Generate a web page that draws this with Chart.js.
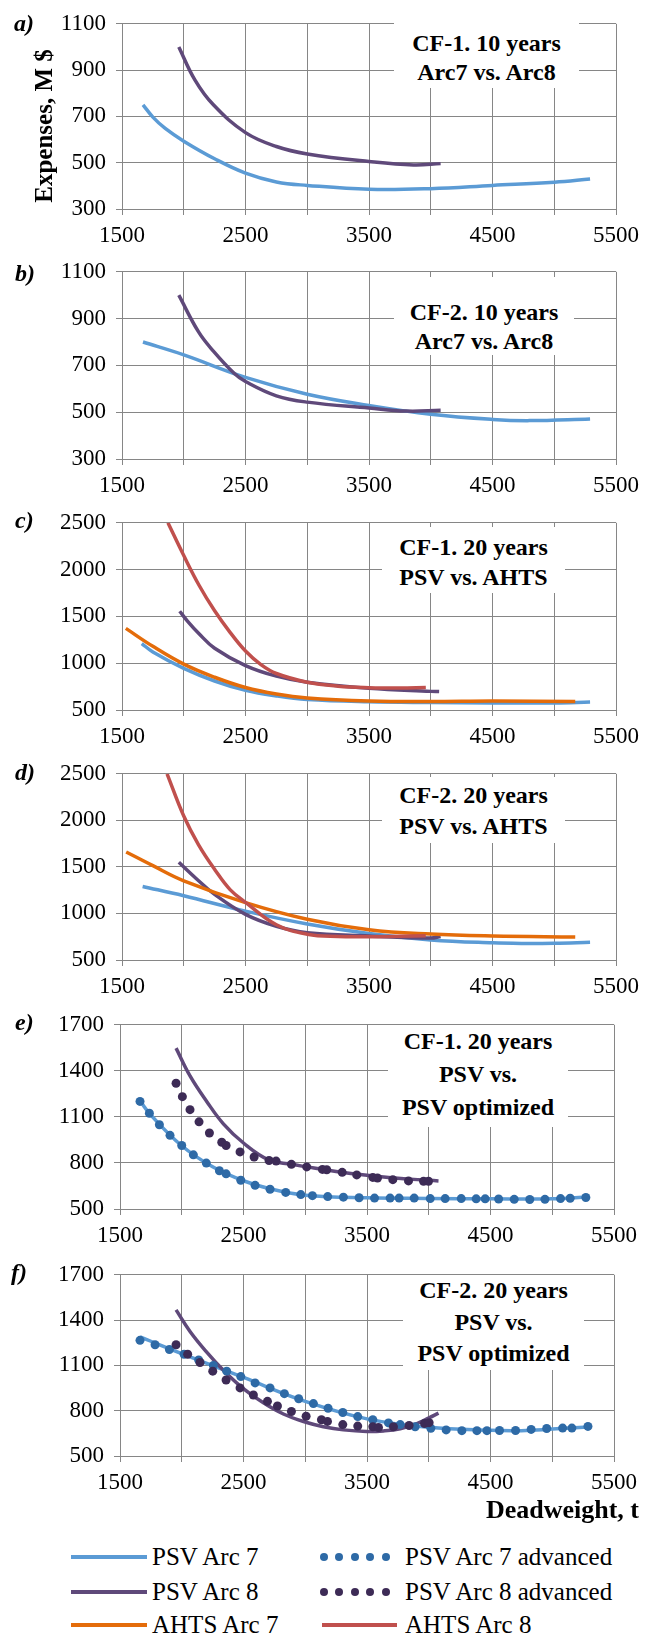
<!DOCTYPE html>
<html lang="en">
<head>
<meta charset="UTF-8">
<title>Expenses vs. deadweight</title>
<script src="https://cdn.jsdelivr.net/npm/chart.js"></script>
<style>
  body { margin: 0; background: #fff; }
  #page { position: relative; width: 660px; height: 1636px; overflow: hidden; font-family: 'Liberation Serif', 'Times New Roman', serif; color: #000; }
  .panel { position: absolute; left: 0; width: 660px; }
  .note { position: absolute; background: #fff; font-weight: bold; font-size: 24px; text-align: center; box-sizing: border-box; white-space: nowrap; }
  .tag { position: absolute; font-weight: bold; font-style: italic; font-size: 24px; line-height: 24px; }
  .ytitle { position: absolute; left: 44px; top: 126px; font-weight: bold; font-size: 25px; white-space: nowrap; transform: translate(-50%, -50%) rotate(-90deg); }
  .xtitle { position: absolute; right: 21px; top: 1494px; font-weight: bold; font-size: 26px; line-height: 32px; white-space: nowrap; }
  .leg { position: absolute; font-size: 25px; line-height: 30px; white-space: nowrap; }
  .sw { position: absolute; height: 4px; }
  .dot { position: absolute; width: 8px; height: 8px; border-radius: 50%; }
</style>
</head>
<body>
<div id="page"></div>
<script>
// deadweight axis, t
const xMin = 1500, xMax = 5500, xStep = 500;
const xLabels = [1500, 2500, 3500, 4500, 5500];

// a) CF-1. 10 years, Arc7 vs. Arc8
const aPsv7 = [[1670,750],[1750,697],[1850,648],[2000,593],[2250,517],[2500,455],[2750,417],[3000,402],[3500,385],[4000,388],[4500,402],[5000,416],[5290,430]];
const aPsv8 = [[1960,1000],[2090,858],[2240,750],[2500,630],[2750,570],[3000,538],[3500,505],[3860,490],[4080,496]];

// b) CF-2. 10 years, Arc7 vs. Arc8
const bPsv7 = [[1670,800],[2000,745],[2500,649],[3000,577],[3500,529],[4000,491],[4500,469],[4800,464],[5290,471]];
const bPsv8 = [[1960,1000],[2120,843],[2240,761],[2410,665],[2500,631],[2750,570],[3000,543],[3500,518],[3800,505],[4080,508]];

// c) CF-1. 20 years, PSV vs. AHTS
const cPsv7 = [[1660,1210],[1750,1120],[2000,945],[2250,810],[2500,710],[2750,650],[3000,612],[3500,588],[4000,580],[4500,576],[5000,576],[5290,585]];
const cPsv8 = [[1967,1555],[2030,1450],[2120,1320],[2250,1160],[2500,975],[2750,862],[3000,797],[3500,731],[4000,699],[4068,697]];
const cAhts7 = [[1531,1372],[1750,1180],[2000,990],[2250,850],[2500,740],[2750,670],[3000,628],[3500,596],[4000,590],[4500,596],[5170,590]];
const cAhts8 = [[1872,2500],[2000,2150],[2125,1830],[2250,1560],[2375,1330],[2500,1130],[2625,985],[2750,890],[3000,797],[3250,755],[3500,739],[3750,735],[3960,740]];

// d) CF-2. 20 years, PSV vs. AHTS
const dPsv7 = [[1667,1290],[2000,1190],[2500,1025],[3000,887],[3500,784],[4000,716],[4500,684],[4750,678],[5000,680],[5290,690]];
const dPsv8 = [[1960,1550],[2100,1376],[2250,1204],[2500,990],[2750,862],[3000,793],[3500,758],[4000,735],[4080,752]];
const dAhts7 = [[1534,1660],[1750,1513],[2000,1351],[2500,1117],[3000,938],[3500,825],[4000,778],[4500,758],[5170,748]];
const dAhts8 = [[1865,2500],[2000,2046],[2120,1737],[2256,1462],[2375,1256],[2500,1119],[2750,879],[3000,777],[3250,752],[3500,750],[3750,755],[3960,760]];

// e) CF-1. 20 years, PSV vs. PSV optimized
const ePsv7 = [[1662,1205],[1750,1112],[2000,912],[2250,775],[2500,684],[2750,625],[3000,590],[3500,573],[4000,569],[4500,566],[5000,566],[5290,578]];
const ePsv8 = [[1954,1548],[2067,1367],[2202,1201],[2337,1055],[2500,930],[2700,822],[2888,791],[3000,776],[3250,745],[3500,720],[3750,700],[4000,687],[4079,683]];
const ePsv7Adv = [[1662,1201],[1738,1124],[1819,1049],[1905,980],[2000,914],[2094,853],[2199,799],[2305,749],[2359,729],[2478,687],[2594,654],[2715,629],[2842,608],[2964,594],[3058,587],[3182,581],[3309,577],[3436,573],[3561,571],[3687,571],[3760,571],[3882,571],[4012,568],[4133,568],[4263,568],[4384,566],[4457,566],[4566,565],[4692,563],[4818,562],[4941,563],[5067,568],[5145,570],[5272,575]];
const ePsv8Adv = [[1954,1319],[2005,1232],[2067,1147],[2140,1068],[2224,995],[2324,935],[2359,914],[2472,872],[2586,839],[2707,816],[2764,812],[2888,791],[3012,774],[3139,758],[3174,756],[3299,739],[3417,722],[3547,706],[3585,702],[3709,691],[3836,683],[3958,681],[3998,681]];

// f) CF-2. 20 years, PSV vs. PSV optimized
const fPsv7 = [[1662,1289],[2000,1178],[2500,1020],[3000,862],[3500,746],[4000,690],[4500,670],[4750,668],[5000,678],[5290,692]];
const fPsv8 = [[1954,1468],[2067,1325],[2202,1188],[2337,1068],[2499,946],[2661,852],[2823,778],[2999,725],[3147,694],[3309,673],[3498,662],[3633,666],[3769,681],[3904,715],[4003,753],[4079,784]];
const fPsv7Adv = [[1662,1266],[1784,1237],[1900,1205],[2019,1174],[2137,1136],[2256,1100],[2364,1062],[2478,1026],[2594,984],[2715,951],[2831,913],[2947,879],[3066,847],[3185,816],[3304,788],[3425,761],[3547,740],[3674,719],[3769,708],[3890,694],[4017,683],[4141,673],[4268,668],[4390,668],[4471,668],[4573,669],[4703,669],[4829,676],[4955,682],[5084,685],[5159,685],[5289,696]];
const fPsv8Adv = [[1954,1237],[2048,1174],[2148,1119],[2251,1062],[2359,1003],[2472,951],[2580,904],[2694,862],[2775,831],[2888,795],[3007,763],[3131,740],[3180,729],[3304,708],[3425,698],[3547,694],[3593,689],[3714,694],[3841,702],[3966,715],[4003,721]];

const seriesStyle = {
  'PSV Arc 7':          { color: '#5b9bd5', dots: false },
  'PSV Arc 8':          { color: '#5f497a', dots: false },
  'AHTS Arc 7':         { color: '#e46c0a', dots: false },
  'AHTS Arc 8':         { color: '#c0504d', dots: false },
  'PSV Arc 7 advanced': { color: '#2e6aa6', dots: true },
  'PSV Arc 8 advanced': { color: '#3d2b56', dots: true }
};

const panels = [
  { tag: 'a)', top: 16, bottom: 209, left: 122, right: 616, yMin: 300, yMax: 1100, yStep: 200,
    series: [['PSV Arc 7', aPsv7], ['PSV Arc 8', aPsv8]],
    note: ['CF-1. 10 years', 'Arc7 vs. Arc8'], box: [394, 17, 185, 71, 12, 29], tagPos: [14, 11] },
  { tag: 'b)', top: 264, bottom: 459, left: 122, right: 616, yMin: 300, yMax: 1100, yStep: 200,
    series: [['PSV Arc 7', bPsv7], ['PSV Arc 8', bPsv8]],
    note: ['CF-2. 10 years', 'Arc7 vs. Arc8'], box: [394, 277, 180, 78, 21, 29], tagPos: [15, 261] },
  { tag: 'c)', top: 515, bottom: 710, left: 122, right: 616, yMin: 500, yMax: 2500, yStep: 500,
    series: [['PSV Arc 7', cPsv7], ['PSV Arc 8', cPsv8], ['AHTS Arc 7', cAhts7], ['AHTS Arc 8', cAhts8]],
    note: ['CF-1. 20 years', 'PSV vs. AHTS'], box: [382, 527, 183, 66, 5, 30], tagPos: [15, 508] },
  { tag: 'd)', top: 766, bottom: 960, left: 122, right: 616, yMin: 500, yMax: 2500, yStep: 500,
    series: [['PSV Arc 7', dPsv7], ['PSV Arc 8', dPsv8], ['AHTS Arc 7', dAhts7], ['AHTS Arc 8', dAhts8]],
    note: ['CF-2. 20 years', 'PSV vs. AHTS'], box: [382, 777, 183, 66, 3, 31], tagPos: [15, 760] },
  { tag: 'e)', top: 1017, bottom: 1209, left: 120, right: 614, yMin: 500, yMax: 1700, yStep: 300,
    series: [['PSV Arc 7', ePsv7], ['PSV Arc 8', ePsv8], ['PSV Arc 7 advanced', ePsv7Adv], ['PSV Arc 8 advanced', ePsv8Adv]],
    note: ['CF-1. 20 years', 'PSV vs.', 'PSV optimized'], box: [388, 1025, 180, 102, 0, 33], tagPos: [15, 1010] },
  { tag: 'f)', top: 1267, bottom: 1456, left: 120, right: 614, yMin: 500, yMax: 1700, yStep: 300,
    series: [['PSV Arc 7', fPsv7], ['PSV Arc 8', fPsv8], ['PSV Arc 7 advanced', fPsv7Adv], ['PSV Arc 8 advanced', fPsv8Adv]],
    note: ['CF-2. 20 years', 'PSV vs.', 'PSV optimized'], box: [403, 1275, 181, 95, 0, 31.5], tagPos: [11, 1260] }
];

Chart.defaults.font.family = "'Liberation Serif', 'Times New Roman', serif";
Chart.defaults.font.size = 23;
Chart.defaults.color = '#000';

const page = document.getElementById('page');
const gridColor = '#868686';
const padTop = 16, xAxisH = 44;

panels.forEach(p => {
  const h = p.bottom - p.top + padTop + xAxisH;
  const wrap = document.createElement('div');
  wrap.className = 'panel';
  wrap.style.top = (p.top - padTop) + 'px';
  wrap.style.height = h + 'px';
  const canvas = document.createElement('canvas');
  wrap.appendChild(canvas);
  page.appendChild(wrap);

  const n = p.series.length;
  const datasets = p.series.map(([name, pts], i) => {
    const st = seriesStyle[name];
    const ds = {
      label: name,
      data: pts.map(([x, y]) => ({ x, y })),
      borderColor: st.color,
      backgroundColor: st.color,
      order: n - i,
      fill: false
    };
    if (st.dots) {
      Object.assign(ds, { showLine: false, pointRadius: 4.5, pointBorderWidth: 0, pointBackgroundColor: st.color });
    } else {
      Object.assign(ds, { borderWidth: 3.5, pointRadius: 0, tension: 0.4 });
    }
    return ds;
  });

  new Chart(canvas, {
    type: 'line',
    data: { datasets },
    options: {
      responsive: true,
      maintainAspectRatio: false,
      animation: false,
      layout: { padding: { top: padTop, right: 660 - p.right, left: 0, bottom: 0 } },
      plugins: { legend: { display: false }, tooltip: { enabled: false } },
      scales: {
        x: {
          type: 'linear', min: xMin, max: xMax,
          afterFit: s => { s.height = xAxisH; },
          ticks: {
            stepSize: xStep, autoSkip: false, maxRotation: 0, padding: 7,
            callback: v => xLabels.includes(v) ? String(v) : ''
          },
          grid: { color: gridColor, lineWidth: 1, tickLength: 6 },
          border: { color: gridColor, width: 1 }
        },
        y: {
          type: 'linear', min: p.yMin, max: p.yMax,
          afterFit: s => { s.width = p.left; },
          ticks: { stepSize: p.yStep, padding: 10, callback: v => String(v) },
          grid: { color: gridColor, lineWidth: 1, tickLength: 6 },
          border: { color: gridColor, width: 1 }
        }
      }
    }
  });

  // label box inside the plot
  const [bx, by, bw, bh, bpad, lh] = p.box;
  const note = document.createElement('div');
  note.className = 'note';
  Object.assign(note.style, {
    left: bx + 'px', top: by + 'px', width: bw + 'px', height: bh + 'px',
    paddingTop: bpad + 'px', lineHeight: lh + 'px'
  });
  note.innerHTML = p.note.join('<br>');
  page.appendChild(note);

  const tag = document.createElement('div');
  tag.className = 'tag';
  tag.style.left = p.tagPos[0] + 'px';
  tag.style.top = p.tagPos[1] + 'px';
  tag.textContent = p.tag;
  page.appendChild(tag);
});

// axis titles
const yt = document.createElement('div');
yt.className = 'ytitle';
yt.textContent = 'Expenses, M $';
page.appendChild(yt);
const xt = document.createElement('div');
xt.className = 'xtitle';
xt.textContent = 'Deadweight, t';
page.appendChild(xt);

// legend
const legendRows = [
  ['PSV Arc 7', 'PSV Arc 7 advanced'],
  ['PSV Arc 8', 'PSV Arc 8 advanced'],
  ['AHTS Arc 7', 'AHTS Arc 8']
];
const rowY = [1557, 1592, 1625];
const colSw = [[71, 147], [322, 397]];
const colText = [152, 405];
legendRows.forEach((row, r) => {
  row.forEach((name, c) => {
    const st = seriesStyle[name];
    const y = rowY[r];
    if (st.dots) {
      for (let k = 0; k < 5; k++) {
        const d = document.createElement('div');
        d.className = 'dot';
        d.style.background = st.color;
        d.style.left = (320 + k * 15.4) + 'px';
        d.style.top = (y - 4) + 'px';
        page.appendChild(d);
      }
    } else {
      const s = document.createElement('div');
      s.className = 'sw';
      s.style.background = st.color;
      s.style.left = colSw[c][0] + 'px';
      s.style.width = (colSw[c][1] - colSw[c][0]) + 'px';
      s.style.top = (y - 2) + 'px';
      page.appendChild(s);
    }
    const t = document.createElement('div');
    t.className = 'leg';
    t.style.left = colText[c] + 'px';
    t.style.top = (y - 15) + 'px';
    t.textContent = name;
    page.appendChild(t);
  });
});
</script>
</body>
</html>
